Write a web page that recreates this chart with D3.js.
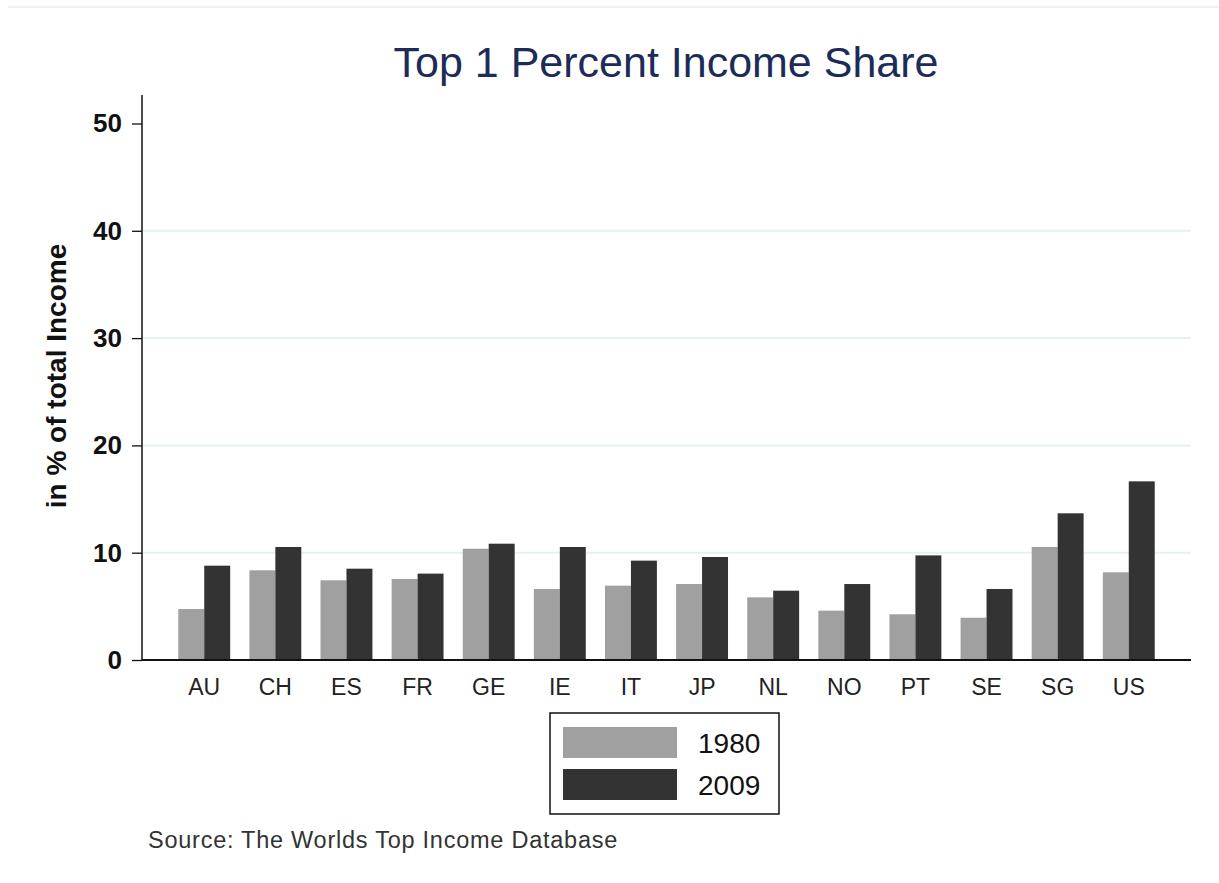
<!DOCTYPE html>
<html>
<head>
<meta charset="utf-8">
<script src="https://cdn.jsdelivr.net/npm/d3@7"></script>
<style>
  html, body { margin: 0; padding: 0; background: #fff; }
  svg { display: block; font-family: Arial, "Liberation Sans", sans-serif; }
</style>
</head>
<body>
<svg id="chart" width="1219" height="883"></svg>
<script>
const countries = ["AU", "CH", "ES", "FR", "GE", "IE", "IT", "JP", "NL", "NO", "PT", "SE", "SG", "US"];
const years = ["1980", "2009"];
const share1980 = [4.75, 8.36, 7.43, 7.55, 10.37, 6.62, 6.93, 7.08, 5.84, 4.6, 4.26, 3.94, 10.53, 8.17];
const share2009 = [8.79, 10.53, 8.51, 8.05, 10.84, 10.53, 9.26, 9.6, 6.46, 7.08, 9.75, 6.62, 13.67, 16.65];
const yTicks = [0, 10, 20, 30, 40, 50];
const gridTicks = [10, 20, 30, 40];

const COLORS = { "1980": "#a0a0a0", "2009": "#333333" };

const rows = countries.map((c, i) => ({
  country: c,
  values: [
    { year: "1980", value: share1980[i] },
    { year: "2009", value: share2009[i] }
  ]
}));

const svg = d3.select("#chart");
const plot = { left: 142, right: 1191, top: 95, bottom: 660 };

// thin rule across the top of the graph region
svg.append("line")
  .attr("x1", 8).attr("x2", 1219)
  .attr("y1", 7).attr("y2", 7)
  .attr("stroke", "#e6eeee")
  .attr("stroke-width", 1.5);

svg.append("text")
  .attr("x", 666)
  .attr("y", 77)
  .attr("text-anchor", "middle")
  .attr("font-size", 43)
  .attr("fill", "#1c2b57")
  .text("Top 1 Percent Income Share");

const x = d3.scaleBand()
  .domain(countries)
  .range([plot.left, plot.right])
  .paddingInner(0.27)
  .paddingOuter(0.51);

const xSub = d3.scaleBand()
  .domain(years)
  .range([0, x.bandwidth()]);

const y = d3.scaleLinear()
  .domain([0, 50])
  .range([plot.bottom, 123.5]);

// grid
svg.append("g")
  .selectAll("line")
  .data(gridTicks)
  .join("line")
  .attr("x1", plot.left)
  .attr("x2", plot.right)
  .attr("y1", d => y(d))
  .attr("y2", d => y(d))
  .attr("stroke", "#e6f0f1")
  .attr("stroke-width", 2);

// bars
const groups = svg.append("g")
  .selectAll("g")
  .data(rows)
  .join("g")
  .attr("transform", d => `translate(${x(d.country)},0)`);

groups.selectAll("rect")
  .data(d => d.values)
  .join("rect")
  .attr("x", d => xSub(d.year))
  .attr("width", xSub.bandwidth())
  .attr("y", d => y(d.value))
  .attr("height", d => y(0) - y(d.value))
  .attr("fill", d => COLORS[d.year]);

// y axis
const yAxis = svg.append("g")
  .attr("transform", `translate(${plot.left},0)`)
  .call(d3.axisLeft(y).tickValues(yTicks).tickSize(10).tickPadding(10));
yAxis.select(".domain").remove();
yAxis.selectAll(".tick line").attr("stroke", "#111").attr("stroke-width", 1.3);
yAxis.selectAll(".tick text")
  .attr("font-size", 26)
  .attr("font-weight", "bold")
  .attr("font-family", "Arial, 'Liberation Sans', sans-serif")
  .attr("fill", "#111");

svg.append("line")
  .attr("x1", plot.left).attr("x2", plot.left)
  .attr("y1", plot.top).attr("y2", plot.bottom)
  .attr("stroke", "#111")
  .attr("stroke-width", 1.5);

// x axis
const xAxis = svg.append("g")
  .attr("transform", `translate(0,${plot.bottom})`)
  .call(d3.axisBottom(x).tickSize(0).tickPadding(19));
xAxis.select(".domain").remove();
xAxis.selectAll(".tick text")
  .attr("font-size", 23)
  .attr("font-family", "Arial, 'Liberation Sans', sans-serif")
  .attr("fill", "#222");

svg.append("line")
  .attr("x1", plot.left).attr("x2", plot.right)
  .attr("y1", plot.bottom).attr("y2", plot.bottom)
  .attr("stroke", "#111")
  .attr("stroke-width", 1.8);

svg.append("text")
  .attr("transform", "translate(66,376) rotate(-90)")
  .attr("text-anchor", "middle")
  .attr("font-size", 28)
  .attr("font-weight", "bold")
  .attr("fill", "#111")
  .text("in % of total Income");

// legend
const legend = svg.append("g").attr("transform", "translate(550,713)");
legend.append("rect")
  .attr("width", 229)
  .attr("height", 101)
  .attr("fill", "#fff")
  .attr("stroke", "#111")
  .attr("stroke-width", 1.5);

const items = legend.selectAll("g.item")
  .data(years)
  .join("g")
  .attr("class", "item")
  .attr("transform", (d, i) => `translate(13,${14 + i * 42})`);

items.append("rect")
  .attr("width", 114)
  .attr("height", 31)
  .attr("fill", d => COLORS[d]);

items.append("text")
  .attr("x", 135)
  .attr("y", 26)
  .attr("font-size", 28)
  .attr("fill", "#111")
  .text(d => d);

svg.append("text")
  .attr("x", 148)
  .attr("y", 848)
  .attr("font-size", 23.5)
  .attr("letter-spacing", 0.75)
  .attr("fill", "#333")
  .text("Source: The Worlds Top Income Database");
</script>
</body>
</html>
